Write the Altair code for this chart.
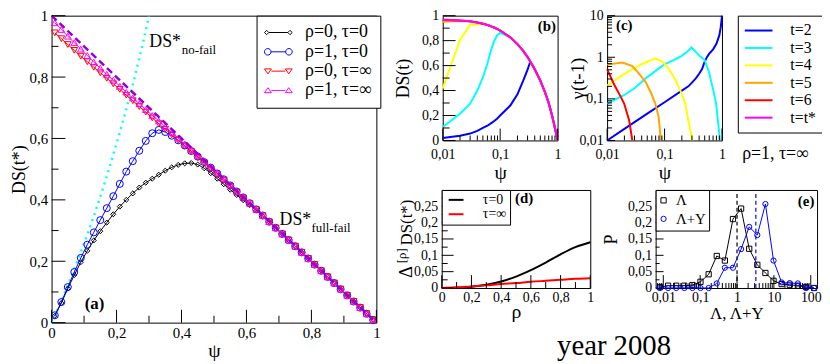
import math
import altair as alt
import pandas as pd

FONT = "Liberation Serif"

# ---------------- panel (a): DS(t*) versus psi ----------------
psi_a = [0.01, 0.03, 0.05, 0.07, 0.09, 0.11, 0.13, 0.15, 0.17, 0.19,
         0.21, 0.23, 0.25, 0.27, 0.29, 0.31, 0.33, 0.35, 0.37, 0.39,
         0.41, 0.43, 0.45, 0.47, 0.49, 0.51, 0.53, 0.55, 0.57, 0.59,
         0.61, 0.63, 0.65, 0.67, 0.69, 0.71, 0.73, 0.75, 0.77, 0.79,
         0.81, 0.83, 0.85, 0.87, 0.89, 0.91, 0.93, 0.95, 0.97, 0.99]
ds_rho0_tau0 = [0.022, 0.064, 0.111, 0.155, 0.197, 0.234, 0.268, 0.298, 0.326, 0.353,
                0.378, 0.400, 0.421, 0.440, 0.456, 0.469, 0.482, 0.495, 0.506, 0.514,
                0.519, 0.520, 0.515, 0.503, 0.487, 0.469, 0.451, 0.433, 0.416, 0.399,
                0.383, 0.366, 0.347, 0.328, 0.308, 0.289, 0.269, 0.249, 0.229, 0.209,
                0.189, 0.169, 0.149, 0.129, 0.109, 0.089, 0.069, 0.049, 0.029, 0.009]
ds_rho1_tau0 = [0.024, 0.067, 0.116, 0.165, 0.211, 0.254, 0.294, 0.334, 0.373, 0.412,
                0.452, 0.492, 0.526, 0.560, 0.592, 0.617, 0.628, 0.621, 0.609, 0.594,
                0.577, 0.559, 0.541, 0.523, 0.505, 0.486, 0.467, 0.447, 0.427, 0.408,
                0.389, 0.369, 0.349, 0.329, 0.309, 0.289, 0.269, 0.249, 0.229, 0.209,
                0.189, 0.169, 0.149, 0.129, 0.109, 0.089, 0.069, 0.049, 0.029, 0.009]
ds_rho0_tauinf = [0.944, 0.925, 0.906, 0.887, 0.868, 0.850, 0.832, 0.814, 0.796, 0.778,
                  0.760, 0.741, 0.723, 0.704, 0.686, 0.667, 0.648, 0.630, 0.612, 0.594,
                  0.575, 0.557, 0.538, 0.520, 0.501, 0.482, 0.463, 0.444, 0.425, 0.406,
                  0.387, 0.368, 0.348, 0.328, 0.308, 0.289, 0.269, 0.249, 0.229, 0.209,
                  0.189, 0.169, 0.149, 0.129, 0.109, 0.089, 0.069, 0.049, 0.029, 0.009]
ds_rho1_tauinf = [0.977, 0.955, 0.933, 0.912, 0.891, 0.870, 0.849, 0.829, 0.809, 0.790,
                  0.770, 0.751, 0.732, 0.713, 0.694, 0.675, 0.657, 0.638, 0.620, 0.601,
                  0.582, 0.564, 0.545, 0.526, 0.507, 0.487, 0.468, 0.448, 0.428, 0.409,
                  0.389, 0.369, 0.349, 0.329, 0.309, 0.289, 0.269, 0.249, 0.229, 0.209,
                  0.189, 0.169, 0.149, 0.129, 0.109, 0.089, 0.069, 0.049, 0.029, 0.009]
nofail_psi = [0.0, 0.02, 0.04, 0.06, 0.08, 0.10, 0.12, 0.14, 0.16, 0.18, 0.20, 0.22, 0.24, 0.26, 0.28, 0.30]
nofail_ds = [0.0, 0.045, 0.095, 0.148, 0.202, 0.258, 0.317, 0.378, 0.443, 0.512, 0.583, 0.657, 0.735, 0.818, 0.905, 1.0]
fullfail_psi = [0.0, 1.0]
fullfail_ds = [1.0, 0.0]
series_a = ["ρ=0, τ=0", "ρ=1, τ=0", "ρ=0, τ=∞", "ρ=1, τ=∞"]

# ---------------- panel (b): DS(t) versus psi (log) ----------------
psi_b = [0.01, 0.02, 0.03, 0.04, 0.05, 0.06, 0.07, 0.08, 0.09, 0.1, 0.15, 0.2,
         0.25, 0.3, 0.33, 0.35, 0.4, 0.5, 0.6, 0.7, 0.8, 0.9, 0.95, 1.0]
b_t2 = [0.020, 0.038, 0.055, 0.076, 0.100, 0.118, 0.139, 0.158, 0.178, 0.200, 0.280, 0.370,
        0.475, 0.567, 0.625, 0.617, 0.570, 0.480, 0.390, 0.300, 0.200, 0.100, 0.050, 0.0]
b_t3 = [0.108, 0.214, 0.295, 0.400, 0.505, 0.617, 0.730, 0.806, 0.845, 0.862, 0.826, 0.772,
        0.720, 0.668, 0.637, 0.617, 0.570, 0.480, 0.390, 0.300, 0.200, 0.100, 0.050, 0.0]
b_t4 = [0.416, 0.806, 0.927, 0.932, 0.934, 0.925, 0.914, 0.903, 0.892, 0.881, 0.826, 0.772,
        0.720, 0.668, 0.637, 0.617, 0.570, 0.480, 0.390, 0.300, 0.200, 0.100, 0.050, 0.0]
b_t5 = [0.952, 0.957, 0.954, 0.946, 0.936, 0.925, 0.914, 0.903, 0.892, 0.881, 0.826, 0.772,
        0.720, 0.668, 0.637, 0.617, 0.570, 0.480, 0.390, 0.300, 0.200, 0.100, 0.050, 0.0]
b_t6 = [0.966, 0.962, 0.955, 0.946, 0.936, 0.925, 0.914, 0.903, 0.892, 0.881, 0.826, 0.772,
        0.720, 0.668, 0.637, 0.617, 0.570, 0.480, 0.390, 0.300, 0.200, 0.100, 0.050, 0.0]
b_tstar = [0.970, 0.962, 0.955, 0.946, 0.936, 0.925, 0.914, 0.903, 0.892, 0.881, 0.826, 0.772,
           0.720, 0.668, 0.637, 0.617, 0.570, 0.480, 0.390, 0.300, 0.200, 0.100, 0.050, 0.0]
series_t = ["t=2", "t=3", "t=4", "t=5", "t=6", "t=t*"]

# ---------------- panel (c): gamma(t-1) versus psi (log-log) ----------------
c_t2_psi = [0.01, 0.02, 0.05, 0.1, 0.2, 0.26, 0.3, 0.35, 0.4, 0.45, 0.5, 0.55, 0.6, 0.7, 0.8, 0.9, 0.95, 0.98, 1.0]
c_t2 = [0.01, 0.019, 0.044, 0.083, 0.158, 0.2, 0.245, 0.31, 0.4, 0.52, 0.78, 1.02, 1.22, 1.55, 2.1, 3.4, 5.2, 7.5, 10.0]
c_t3_psi = [0.01, 0.02, 0.03, 0.05, 0.07, 0.1, 0.15, 0.2, 0.25, 0.294, 0.35, 0.4, 0.5, 0.6, 0.65, 0.7, 0.79, 0.88, 0.92]
c_t3 = [0.077, 0.124, 0.18, 0.333, 0.47, 0.68, 0.88, 1.08, 1.38, 1.72, 1.35, 1.1, 0.86, 0.42, 0.256, 0.17, 0.077, 0.019, 0.01]
c_t4_psi = [0.01, 0.02, 0.03, 0.04, 0.05, 0.069, 0.09, 0.11, 0.13, 0.16, 0.2, 0.23, 0.26, 0.28, 0.306]
c_t4 = [0.209, 0.40, 0.55, 0.68, 0.78, 0.94, 0.80, 0.61, 0.43, 0.26, 0.13, 0.075, 0.03, 0.018, 0.01]
c_t5_psi = [0.01, 0.0185, 0.0275, 0.035, 0.0466, 0.058, 0.069, 0.079, 0.0863]
c_t5 = [0.666, 0.75, 0.61, 0.42, 0.256, 0.14, 0.077, 0.037, 0.01]
c_t6_psi = [0.01, 0.0134, 0.0174, 0.0198, 0.0241, 0.0275]
c_t6 = [0.51, 0.216, 0.11, 0.077, 0.031, 0.01]

# ---------------- panel (d): Delta DS(t*) versus rho ----------------
rho_d = [0.0, 0.1, 0.2, 0.3, 0.4, 0.5, 0.6, 0.7, 0.8, 0.9, 1.0]
d_tau0 = [0.0, 0.001, 0.004, 0.010, 0.020, 0.035, 0.055, 0.078, 0.103, 0.125, 0.140]
d_tauinf = [0.0, 0.002, 0.005, 0.008, 0.012, 0.015, 0.019, 0.022, 0.025, 0.028, 0.030]
series_d = ["τ=0", "τ=∞"]

# ---------------- panel (e): distributions of Lambda and Lambda+Y ----------------
lam_bins = [0.0081, 0.0135, 0.0224, 0.0372, 0.0617, 0.102, 0.17, 0.282, 0.468, 0.776,
            1.29, 2.14, 3.55, 5.89, 9.77, 16.2, 26.9, 44.7, 74.1, 123.0]
p_lambda = [0.003, 0.007, 0.007, 0.007, 0.009, 0.019, 0.042, 0.098, 0.084, 0.211,
            0.243, 0.120, 0.071, 0.046, 0.022, 0.012, 0.010, 0.007, 0.003, 0.0]
p_lambda_y = [0.0, 0.0, 0.0, 0.0, 0.0, 0.0, 0.0, 0.014, 0.062, 0.062,
              0.119, 0.187, 0.162, 0.257, 0.084, 0.017, 0.015, 0.014, 0.0, 0.0]
mean_lambda = 1.0
mean_lambda_y = 3.24
series_e = ["Λ", "Λ+Y"]

# ---------------- tick values ----------------
ticks_01 = [0, 0.1, 0.2, 0.3, 0.4, 0.5, 0.6, 0.7, 0.8, 0.9, 1.0]
ticks_log_1 = [0.01, 0.02, 0.03, 0.04, 0.05, 0.06, 0.07, 0.08, 0.09,
               0.1, 0.2, 0.3, 0.4, 0.5, 0.6, 0.7, 0.8, 0.9, 1]
ticks_log_10 = ticks_log_1 + [2, 3, 4, 5, 6, 7, 8, 9, 10]
ticks_p = [0, 0.025, 0.05, 0.075, 0.1, 0.125, 0.15, 0.175, 0.2, 0.225, 0.25, 0.275]
ticks_log_e = [0.007, 0.008, 0.009] + ticks_log_10 + [20, 30, 40, 50, 60, 70, 80, 90, 100]

BLACK, BLUE, RED, MAGENTA = "#000000", "#0000ff", "#ff0000", "#ff00ff"
CYAN, YELLOW, ORANGE, VIOLET = "#00ffff", "#ffff00", "#ffa500", "#9400d3"


def lin_minor(step):
    return f"abs(datum.value / {step} - round(datum.value / {step})) > 0.001"


LOG_MINOR = "abs(log(datum.value) / LN10 - round(log(datum.value) / LN10)) > 0.001"


def make_axis(orient, values, minor, offset, title, title_pos,
              label_size=14, title_size=18, label_pad=3):
    props = dict(
        orient=orient, offset=offset, values=values, ticks=False, tickSize=0,
        labelExpr="(" + minor + ") ? '' : replace(format(datum.value, '.2~f'), '.', ',')",
        domain=False, grid=False, labelFlush=False, labelOverlap=False,
        labelPadding=label_pad, labelFont=FONT, labelFontSize=label_size, labelColor="black",
        title=title, titleFont=FONT, titleFontSize=title_size, titleFontWeight="normal",
        titleColor="black", titleBaseline="middle",
    )
    if orient == "left":
        props["titleX"] = title_pos
    else:
        props["titleY"] = title_pos
    return alt.Axis(**props)


def scale(domain, rng, typ="linear"):
    return alt.Scale(type=typ, domain=domain, range=rng, nice=False, zero=False)


def df_xy(xs, ys):
    return pd.DataFrame({"x": xs, "y": ys})


def frame(X, Y, x0, x1, y0, y1):
    d = pd.DataFrame({"x": [x0], "x2": [x1], "y": [y0], "y2": [y1]})
    return alt.Chart(d).mark_rect(fill="transparent", stroke="black", strokeWidth=1,
                                  xOffset=0.5, x2Offset=0.5, yOffset=0.5, y2Offset=0.5).encode(
        x=X, x2=alt.X2("x2"), y=Y, y2=alt.Y2("y2"))


def inward_ticks(X, Y, xdom, xrng, xlog, xticks, xstep, xmaj, xmin,
                 ydom, yrng, ylog, yticks, ystep, ymaj, ymin):
    """Inward tick marks, placed at the tick values through the panel's own scales."""
    def reach(dom, rng, log, px):
        span = abs(rng[1] - rng[0])
        if log:
            return dom[0] * 10 ** (px * math.log10(dom[1] / dom[0]) / span)
        return dom[0] + px * (dom[1] - dom[0]) / span

    def major(v, log, step):
        if log:
            lv = math.log10(v)
            return abs(lv - round(lv)) < 1e-6
        return abs(v / step - round(v / step)) < 1e-6

    rows = []
    for v in xticks:
        n = xmaj if major(v, xlog, xstep) else xmin
        rows.append((v, v, ydom[0], reach(ydom, yrng, ylog, n)))
    for v in yticks:
        n = ymaj if major(v, ylog, ystep) else ymin
        rows.append((xdom[0], reach(xdom, xrng, xlog, n), v, v))
    d = pd.DataFrame(rows, columns=["x", "x2", "y", "y2"])
    return alt.Chart(d).mark_rule(color="black", strokeWidth=1, opacity=1).encode(
        x=X, x2=alt.X2("x2"), y=Y, y2=alt.Y2("y2"))


def texts(rows, X, Y, size, weight="normal", align="left"):
    d = pd.DataFrame(rows, columns=["x", "y", "t"])
    return alt.Chart(d).mark_text(font=FONT, fontSize=size, fontWeight=weight, align=align,
                                  baseline="alphabetic", color="black").encode(x=X, y=Y, text="t:N")


def legend(x, y, **kw):
    base = dict(title=None, orient="none", legendX=x, legendY=y, direction="vertical",
                fillColor="white", strokeColor="black", labelFont=FONT, labelColor="black")
    base.update(kw)
    return alt.Legend(**base)


# ================= panel (a) =================
XA_DOM, XA_RNG, YA_DOM, YA_RNG = [0, 1], [44, 372], [0, 1], [316, 6]
XA = alt.X("x:Q", scale=scale(XA_DOM, XA_RNG),
           axis=make_axis("bottom", ticks_01, lin_minor(0.2), 316 - 356, "ψ", 28, 15, 20, 3))
YA = alt.Y("y:Q", scale=scale(YA_DOM, YA_RNG),
           axis=make_axis("left", ticks_01, lin_minor(0.2), -44, "DS(t*)", -32, 15, 18, 4))

layers_a = [frame(XA, YA, 0, 1, 0, 1),
            alt.Chart(df_xy(nofail_psi, nofail_ds)).mark_line(
                color=CYAN, strokeWidth=2.5, strokeDash=[2, 4.5]).encode(x=XA, y=YA)]
for ys, col, shp, sz in [(ds_rho0_tau0, BLACK, "diamond", 26),
                         (ds_rho1_tau0, BLUE, "circle", 50),
                         (ds_rho0_tauinf, RED, "triangle-down", 45),
                         (ds_rho1_tauinf, MAGENTA, "triangle-up", 45)]:
    d = df_xy(psi_a, ys)
    layers_a.append(alt.Chart(d).mark_line(color=col, strokeWidth=1).encode(x=XA, y=YA))
    layers_a.append(alt.Chart(d).mark_point(color=col, shape=shp, size=sz, filled=False,
                                            strokeWidth=1, opacity=1).encode(x=XA, y=YA))
layers_a.append(alt.Chart(df_xy(fullfail_psi, fullfail_ds)).mark_line(
    color=VIOLET, strokeWidth=2.5, strokeDash=[7, 4]).encode(x=XA, y=YA))
layers_a.append(inward_ticks(XA, YA, XA_DOM, XA_RNG, False, ticks_01, 0.2, 13, 7,
                             YA_DOM, YA_RNG, False, ticks_01, 0.2, 14, 7))

# legend symbols: a short line with the series marker at both ends (1 unit = 5 px)
paths_a = [
    "M-1.92,0L1.92,0M-2.8,0L-2.36,-0.44L-1.92,0L-2.36,0.44ZM1.92,0L2.36,-0.44L2.8,0L2.36,0.44Z",
    "M-1.48,0L1.48,0M-1.48,0A0.66,0.66,0,1,0,-2.8,0A0.66,0.66,0,1,0,-1.48,0"
    "M2.8,0A0.66,0.66,0,1,0,1.48,0A0.66,0.66,0,1,0,2.8,0",
    "M-1.4,0L1.4,0M-2.8,-0.45L-1.4,-0.45L-2.1,0.55ZM1.4,-0.45L2.8,-0.45L2.1,0.55Z",
    "M-1.4,0L1.4,0M-2.8,0.45L-1.4,0.45L-2.1,-0.55ZM1.4,0.45L2.8,0.45L2.1,-0.55Z",
]
leg_a = legend(251, 6, padding=8, rowPadding=1.5, symbolSize=100, symbolStrokeWidth=1,
               symbolOffset=5, labelFontSize=18, labelOffset=18)
layers_a.append(alt.Chart(pd.DataFrame({"x": [-50.0] * 4, "y": [0.5] * 4, "s": series_a}))
                .mark_point(filled=False, strokeWidth=1, opacity=1).encode(
    x=XA, y=YA,
    color=alt.Color("s:N", scale=alt.Scale(domain=series_a, range=[BLACK, BLUE, RED, MAGENTA]), legend=leg_a),
    shape=alt.Shape("s:N", scale=alt.Scale(domain=series_a, range=paths_a), legend=leg_a)))
layers_a.append(texts([(0.301, 0.899, "DS*"), (0.702, 0.317, "DS*")], XA, YA, 18))
layers_a.append(texts([(0.401, 0.875, "no-fail"), (0.800, 0.294, "full-fail")], XA, YA, 13))
layers_a.append(texts([(0.102, 0.046, "(a)")], XA, YA, 17, "bold"))
panel_a = alt.layer(*layers_a)

# ================= panel (b) =================
XB_DOM, XB_RNG, YB_DOM, YB_RNG = [0.01, 1], [439, 555], [0, 1], [132, 6]
XB = alt.X("x:Q", scale=scale(XB_DOM, XB_RNG, "log"),
           axis=make_axis("bottom", ticks_log_1, LOG_MINOR, 132 - 356, "ψ", 32, 14, 20, 7))
YB = alt.Y("y:Q", scale=scale(YB_DOM, YB_RNG),
           axis=make_axis("left", ticks_01, lin_minor(0.2), -439, "DS(t)", -40, 14, 18, 4))
layers_b = [frame(XB, YB, 0.01, 1, 0, 1)]
for ys, col in [(b_t2, BLUE), (b_t3, CYAN), (b_t4, YELLOW), (b_t5, ORANGE), (b_t6, RED), (b_tstar, MAGENTA)]:
    layers_b.append(alt.Chart(df_xy(psi_b, ys)).mark_line(color=col, strokeWidth=2).encode(x=XB, y=YB))
layers_b.append(inward_ticks(XB, YB, XB_DOM, XB_RNG, True, ticks_log_1, None, 12, 5,
                             YB_DOM, YB_RNG, False, ticks_01, 0.2, 13, 7))
layers_b.append(texts([(0.935, 0.881, "(b)")], XB, YB, 15, "bold", "right"))
panel_b = alt.layer(*layers_b)

# ================= panel (c) =================
XC_DOM, XC_RNG, YC_DOM, YC_RNG = [0.01, 1], [605, 721], [0.01, 10], [132, 6]
XC = alt.X("x:Q", scale=scale(XC_DOM, XC_RNG, "log"),
           axis=make_axis("bottom", ticks_log_1, LOG_MINOR, 132 - 356, "ψ", 32, 14, 20, 7))
YC = alt.Y("y:Q", scale=scale(YC_DOM, YC_RNG, "log"),
           axis=make_axis("left", ticks_log_10, LOG_MINOR, -605, "γ(t-1)", -30, 14, 19, 4))
layers_c = [frame(XC, YC, 0.01, 1, 0.01, 10)]
for xs, ys, col in [(c_t2_psi, c_t2, BLUE), (c_t3_psi, c_t3, CYAN), (c_t4_psi, c_t4, YELLOW),
                    (c_t5_psi, c_t5, ORANGE), (c_t6_psi, c_t6, RED)]:
    layers_c.append(alt.Chart(df_xy(xs, ys)).mark_line(color=col, strokeWidth=2).encode(x=XC, y=YC))
layers_c.append(inward_ticks(XC, YC, XC_DOM, XC_RNG, True, ticks_log_1, None, 12, 5,
                             YC_DOM, YC_RNG, True, ticks_log_10, None, 8, 5))
leg_c = legend(737, 6, padding=7, rowPadding=1.6, symbolType="M-2.8,0L2.8,0", symbolSize=100,
               symbolStrokeWidth=2, symbolOffset=6, labelFontSize=16, labelOffset=24)
layers_c.append(alt.Chart(pd.DataFrame({"x": [1e-30] * 6, "y": [1.0] * 6, "s": series_t}))
                .mark_line(strokeWidth=2).encode(
    x=XC, y=YC,
    color=alt.Color("s:N", scale=alt.Scale(domain=series_t, range=[BLUE, CYAN, YELLOW, ORANGE, RED, MAGENTA]),
                    legend=leg_c)))
layers_c.append(texts([(0.0143, 4.44, "(c)")], XC, YC, 15, "bold"))
panel_c = alt.layer(*layers_c)

# ================= panel (d) =================
XD_DOM, XD_RNG, YD_DOM, YD_RNG = [0, 1], [438, 588], [0, 0.3], [281, 182]
XD = alt.X("x:Q", scale=scale(XD_DOM, XD_RNG),
           axis=make_axis("bottom", ticks_01, lin_minor(0.2), 281 - 356, "ρ", 24, 14, 20, 3))
YD = alt.Y("y:Q", scale=scale(YD_DOM, YD_RNG),
           axis=make_axis("left", ticks_p, lin_minor(0.05), -438, "", -30, 14, 18, 4))
layers_d = [frame(XD, YD, 0, 1, 0, 0.3)]
for ys, col in [(d_tau0, BLACK), (d_tauinf, RED)]:
    layers_d.append(alt.Chart(df_xy(rho_d, ys)).mark_line(color=col, strokeWidth=2, interpolate="monotone")
                    .encode(x=XD, y=YD))
layers_d.append(inward_ticks(XD, YD, XD_DOM, XD_RNG, False, ticks_01, 0.2, 13, 6,
                             YD_DOM, YD_RNG, False, ticks_p, 0.05, 12, 6))
leg_d = legend(438, 182, padding=3, rowPadding=0.5, symbolType="M-1.5,0L1.5,0", symbolSize=100,
               symbolStrokeWidth=2, symbolOffset=4.5, labelFontSize=14, labelOffset=20)
layers_d.append(alt.Chart(pd.DataFrame({"x": [-50.0] * 2, "y": [0.1] * 2, "s": series_d}))
                .mark_line(strokeWidth=2).encode(
    x=XD, y=YD,
    color=alt.Color("s:N", scale=alt.Scale(domain=series_d, range=[BLACK, RED]), legend=leg_d)))
layers_d.append(texts([(0.493, 0.26, "(d)")], XD, YD, 15, "bold"))
panel_d = alt.layer(*layers_d)

# ================= panel (e) =================
XE_DOM, XE_RNG, YE_DOM, YE_RNG = [0.0062, 148], [654, 817], [0, 0.3], [281, 182]
XE = alt.X("x:Q", scale=scale(XE_DOM, XE_RNG, "log"),
           axis=make_axis("bottom", ticks_log_e, LOG_MINOR, 281 - 356, "Λ, Λ+Y", 26, 14, 17, 3))
YE = alt.Y("y:Q", scale=scale(YE_DOM, YE_RNG),
           axis=make_axis("left", ticks_p, lin_minor(0.05), -654, "P", -45, 14, 18, 4))
layers_e = [frame(XE, YE, 0.0062, 148, 0, 0.3)]
for m, col in [(mean_lambda, BLACK), (mean_lambda_y, BLUE)]:
    layers_e.append(alt.Chart(pd.DataFrame({"x": [m], "y": [0.0], "y2": [0.3]})).mark_rule(
        color=col, strokeWidth=1.2, strokeDash=[4, 3]).encode(x=XE, y=YE, y2=alt.Y2("y2")))
layers_e.append(inward_ticks(XE, YE, XE_DOM, XE_RNG, True, ticks_log_e, None, 13, 5,
                             YE_DOM, YE_RNG, False, ticks_p, 0.05, 8, 4))
for ys, col, shp in [(p_lambda, BLACK, "square"), (p_lambda_y, BLUE, "circle")]:
    d = df_xy(lam_bins, ys)
    layers_e.append(alt.Chart(d).mark_line(color=col, strokeWidth=1).encode(x=XE, y=YE))
    layers_e.append(alt.Chart(d).mark_point(color=col, shape=shp, size=28, filled=False,
                                            strokeWidth=1, opacity=1).encode(x=XE, y=YE))
leg_e = legend(654, 182, padding=3, rowPadding=2.7, symbolSize=28, symbolStrokeWidth=1,
               symbolOffset=-2.5, labelFontSize=15, labelOffset=5)
# legend-only layer: its points sit far outside the drawing
layers_e.append(alt.Chart(pd.DataFrame({"x": [1e-60] * 2, "y": [0.1] * 2, "s": series_e}))
                .mark_point(filled=False, strokeWidth=1, opacity=1).encode(
    x=XE, y=YE,
    color=alt.Color("s:N", scale=alt.Scale(domain=series_e, range=[BLACK, BLUE]), legend=leg_e),
    shape=alt.Shape("s:N", scale=alt.Scale(domain=series_e, range=["square", "circle"]), legend=leg_e)))
layers_e.append(texts([(125, 0.252, "(e)")], XE, YE, 15, "bold", "right"))
panel_e = alt.layer(*layers_e)


# ================= free annotations =================
def note(text, x, y, size, align="center", angle=0):
    kw = dict(font=FONT, fontSize=size, align=align, baseline="alphabetic", color="black")
    if angle:
        kw["angle"] = angle
    return alt.Chart(pd.DataFrame({"t": [text]})).mark_text(**kw).encode(
        text="t:N", x=alt.value(x), y=alt.value(y))


notes = alt.layer(
    note("ρ=1, τ=∞", 775, 151, 18),
    note("year 2008", 612, 349, 29),
    note("Δ", 408, 271, 19, "left", 270),
    note("[ρ]", 402, 256, 13, "left", 270),
    note("DS(t*)", 408, 238, 17, "left", 270),
)

chart = alt.layer(panel_a, panel_b, panel_c, panel_d, panel_e, notes).resolve_scale(
    x="independent", y="independent", color="independent", shape="independent"
).properties(
    width=822, height=356, autosize=alt.AutoSizeParams(type="none"), padding=0
).configure_view(strokeWidth=0)

chart.save("out.html", embed_options={"renderer": "svg", "actions": False})
